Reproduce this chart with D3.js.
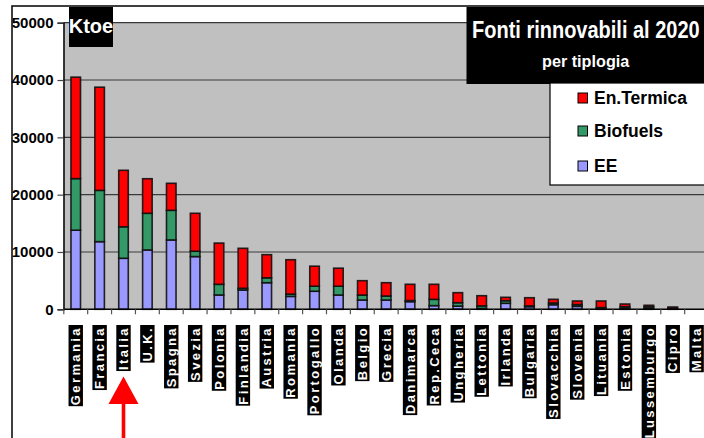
<!DOCTYPE html>
<html>
<head>
<meta charset="utf-8">
<script src="https://cdn.jsdelivr.net/npm/d3@7"></script>
<style>
  body { margin: 0; background: #fff; }
  svg { display: block; font-family: "Liberation Sans", Arial, sans-serif; }
</style>
</head>
<body>
<script>

var countries = ["Germania", "Francia", "Italia", "U.K.", "Spagna", "Svezia", "Polonia", "Finlandia",
    "Austria", "Romania", "Portogallo", "Olanda", "Belgio", "Grecia", "Danimarca", "Rep.Ceca",
    "Ungheria", "Lettonia", "Irlanda", "Bulgaria", "Slovacchia", "Slovenia", "Lituania", "Estonia",
    "Lussemburgo", "Cipro", "Malta"];

// ktoe per tipologia
var ee       = [13800, 11800, 8900, 10350, 12100, 9200, 2500, 3370, 4640, 2250, 3150, 2490,
                1620, 1620, 1330, 640, 560, 150, 1050, 450, 800, 520, 100, 200, 150, 100, 0];
var biofuels = [9000, 8950, 5500, 6400, 5170, 930, 1860, 300, 850, 400, 880, 1540,
                870, 700, 200, 1100, 590, 450, 450, 150, 300, 300, 200, 250, 300, 100, 0];
var termica  = [17700, 18000, 9850, 6030, 4710, 6620, 7190, 6970, 4040, 6000, 3490, 3140,
                2500, 2320, 2830, 2620, 1750, 1770, 590, 1420, 640, 630, 1150, 470, 250, 200, 0];

var yTicks = [0, 10000, 20000, 30000, 40000, 50000];

var series = [
    {key: "EE", values: ee, color: "#9999ff"},
    {key: "Biofuels", values: biofuels, color: "#339966"},
    {key: "En.Termica", values: termica, color: "#ff0000"}
];

var W = 704, H = 438;
var svg = d3.select("body").append("svg")
    .attr("width", W)
    .attr("height", H);

var x = d3.scaleBand()
    .domain(countries)
    .range([63.8, 63.8 + 27 * 23.88])
    .paddingInner(0.6)
    .paddingOuter(0.3);

var y = d3.scaleLinear()
    .domain([0, 50000])
    .range([309.3, 22.7]);

// plot background
svg.append("rect")
    .attr("x", 63.5).attr("y", y(50000))
    .attr("width", W - 63.5).attr("height", y(0) - y(50000))
    .attr("fill", "#c0c0c0");

// gridlines
svg.append("g").selectAll("line")
    .data(yTicks.slice(1))
    .join("line")
    .attr("x1", 63.5).attr("x2", W)
    .attr("y1", d => y(d)).attr("y2", d => y(d))
    .attr("stroke", "#3a3a3a").attr("stroke-width", 1.2);

// y axis
var yAxis = svg.append("g")
    .attr("transform", "translate(63.5,0)")
    .call(d3.axisLeft(y).tickValues(yTicks).tickSize(6).tickPadding(4).tickFormat(d3.format("d")));
yAxis.select(".domain").attr("stroke", "#000").attr("stroke-width", 1.5);
yAxis.selectAll(".tick line").attr("stroke", "#444").attr("stroke-width", 1.2);
yAxis.selectAll("text")
    .attr("font-size", 15).attr("font-weight", "bold").attr("fill", "#000")
    .attr("font-family", "Liberation Sans, Arial, sans-serif");

// stacked bars
var rows = countries.map(function(c, i) {
    var r = {country: c};
    series.forEach(function(s) { r[s.key] = s.values[i]; });
    return r;
});
var stacked = d3.stack().keys(series.map(s => s.key))(rows);

svg.append("g").selectAll("g")
    .data(stacked)
    .join("g")
    .attr("fill", (d, i) => series[i].color)
    .selectAll("rect")
    .data(d => d.filter(p => p[1] - p[0] > 0))
    .join("rect")
    .attr("x", d => x(d.data.country))
    .attr("y", d => y(d[1]))
    .attr("width", x.bandwidth())
    .attr("height", d => y(d[0]) - y(d[1]))
    .attr("stroke", "#111")
    .attr("stroke-width", 1.6)
    .attr("stroke-opacity", 0.9);

// x axis line and ticks at band edges
svg.append("line")
    .attr("x1", 63.5).attr("x2", W)
    .attr("y1", y(0)).attr("y2", y(0))
    .attr("stroke", "#000").attr("stroke-width", 1.5);
var step = x.step();
svg.append("g").selectAll("line")
    .data(countries)
    .join("line")
    .attr("x1", d => x(d) - x.paddingOuter() * step)
    .attr("x2", d => x(d) - x.paddingOuter() * step)
    .attr("y1", y(0)).attr("y2", y(0) + 5)
    .attr("stroke", "#555").attr("stroke-width", 1.2);

// category labels: white on black, rotated
var labels = svg.append("g").selectAll("g")
    .data(countries)
    .join("g")
    .attr("transform", d => "translate(" + (x(d) + x.bandwidth() / 2) + ",325) rotate(-90)");
labels.append("text")
    .attr("x", -1).attr("y", 0)
    .attr("dy", "0.36em")
    .attr("text-anchor", "end")
    .attr("font-size", 13).attr("font-weight", "bold")
    .attr("letter-spacing", 2.4)
    .attr("fill", "#fff")
    .text(d => d);
labels.each(function() {
    var g = d3.select(this);
    var bb = g.select("text").node().getBBox();
    g.insert("rect", "text")
        .attr("x", bb.x - 1).attr("y", -7.2)
        .attr("width", bb.width + 2).attr("height", 14.4)
        .attr("fill", "#000");
});

// outer frame
svg.append("path")
    .attr("d", "M12,438 V6 H704")
    .attr("fill", "none").attr("stroke", "#000").attr("stroke-width", 1.5);

// Ktoe box
svg.append("rect").attr("x", 69).attr("y", 7).attr("width", 44).attr("height", 40).attr("fill", "#000");
svg.append("text").attr("x", 91).attr("y", 32.5)
    .attr("text-anchor", "middle").attr("font-size", 20).attr("font-weight", "bold")
    .attr("fill", "#fff").text("Ktoe");

// title box (testo stretto: scala verticale invece di un font narrow)
svg.append("rect").attr("x", 466.5).attr("y", 7).attr("width", W - 466.5).attr("height", 77).attr("fill", "#000");
svg.append("text")
    .attr("transform", "translate(472,37.5) scale(1,1.18)")
    .attr("font-size", 20).attr("font-weight", "bold").attr("fill", "#fff")
    .text("Fonti rinnovabili al 2020");
svg.append("text")
    .attr("transform", "translate(542,66.5) scale(1.08,1.12)")
    .attr("font-size", 15).attr("font-weight", "bold").attr("fill", "#fff")
    .text("per tiplogia");

// legend
svg.append("rect").attr("x", 550).attr("y", 83).attr("width", W - 549).attr("height", 102)
    .attr("fill", "#fff").attr("stroke", "#000").attr("stroke-width", 1.2);
var legendItems = series.slice().reverse();
var legendY = [98, 131, 166];
var lg = svg.append("g").selectAll("g")
    .data(legendItems)
    .join("g")
    .attr("transform", (d, i) => "translate(578," + legendY[i] + ")");
lg.append("rect")
    .attr("x", 0).attr("y", -5).attr("width", 9.5).attr("height", 10)
    .attr("fill", d => d.color).attr("stroke", "#000").attr("stroke-width", 1);
lg.append("text")
    .attr("x", 16).attr("y", 0).attr("dy", "0.36em")
    .attr("font-size", 17.5).attr("font-weight", "bold").attr("fill", "#000")
    .text(d => d.key);

// red arrow pointing at Italia
var ax = x("Italia") + x.bandwidth() / 2;
svg.append("path")
    .attr("d", "M" + ax + ",376.5 L" + (ax + 15) + ",404 L" + (ax + 1.8) + ",404 L" + (ax + 1.8) + ",438" +
        " L" + (ax - 1.8) + ",438 L" + (ax - 1.8) + ",404 L" + (ax - 15) + ",404 Z")
    .attr("fill", "#ff0000");

</script>
</body>
</html>
